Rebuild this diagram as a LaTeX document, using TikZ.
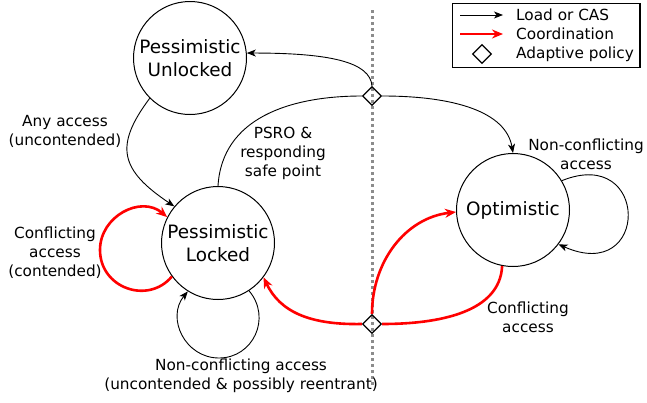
\documentclass[tikz,border=0pt]{standalone}
\usepackage{fontspec}
\setmainfont{DejaVu Sans}
\usetikzlibrary{arrows.meta,shapes.geometric}
\begin{document}
\begin{tikzpicture}[x=1pt,y=-1pt,
  state/.style={circle,draw,line width=1pt,minimum size=113pt,inner sep=0pt,
    align=center,font=\fontsize{18.4}{22.5}\selectfont},
  lbl/.style={align=center,font=\fontsize{15.3}{19}\selectfont},
  legtext/.style={anchor=west,inner sep=0pt,font=\fontsize{15.3}{19}\selectfont},
  cas/.style={draw,line width=0.9pt,-{Stealth[length=9pt,width=7pt,inset=2.5pt]}},
  plainedge/.style={draw,line width=0.9pt},
  coordedge/.style={draw=red,line width=2.6pt,-{Stealth[length=11pt,width=9pt,inset=3.5pt]}},
  coordplain/.style={draw=red,line width=2.6pt},
  policy/.style={diamond,draw,line width=1.3pt,minimum size=19pt,inner sep=0pt}
]
\useasboundingbox (0,0) rectangle (647,402);

% divider between the pessimistic and optimistic halves
\draw[gray!90,line width=3pt,dash pattern=on 3pt off 3pt] (372,10) -- (372,386);

% states
\node[state] (PU) at (190,58) {Pessimistic\\Unlocked};
\node[state] (PL) at (218,243) {Pessimistic\\Locked};
\node[state] (OP) at (513,210) {Optimistic};

% adaptive policy points
\node[policy] (D1) at (372,96) {};
\node[policy] (D2) at (372,324) {};

% load / CAS transitions
\draw[cas] (D1.north) .. controls (370,62) and (330,53) .. (PU.5);
\draw[plainedge] (D1.west) .. controls (290,96) and (222,118) .. (PL.north);
\draw[cas] (D1.east) .. controls (455,96) and (506,112) .. (OP.north);
\draw[cas] (PU.225) .. controls (114,146) and (120,170) .. (PL.140);
\draw[cas] (PL.-57) .. controls (272,318) and (253,358) .. (219,358)
                    .. controls (185,358) and (166,318) .. (PL.-122);
\draw[cas] (OP.31) .. controls (650,145) and (650,285) .. (OP.-37);

% coordination transitions
\draw[coordedge] (PL.216) .. controls (148,305) and (100,288) .. (100,250)
                          .. controls (100,216) and (141,195) .. (PL.153);
\draw[coordedge] (D2.west) .. controls (310,325) and (280,312) .. (PL.-37);
\draw[coordedge] (D2.north) .. controls (372,262) and (405,218) .. (OP.182);
\draw[coordplain] (OP.-101) .. controls (500,312) and (440,324) .. (D2.east);

% transition labels
\node[lbl] (l1) at (65,131) {Any access\\(uncontended)};
\node[lbl] (l2) at (283,153) {PSRO \&\\responding\\safe point};
\node[lbl] (l3) at (55,253) {Conflicting\\access\\(contended)};
\node[lbl] (l4) at (241,376) {Non-conflicting access\\(uncontended \& possibly reentrant)};
\node[lbl] (l5) at (586,154) {Non-conflicting\\access};
\node[lbl] (l6) at (528,317) {Conflicting\\access};

% legend
\draw[line width=1.3pt] (452.5,3.5) rectangle (640,67.5);
\coordinate (a1) at (460,15);
\coordinate (a2) at (503,15);
\coordinate (b1) at (460,34);
\coordinate (b2) at (503,34);
\draw[cas] (a1) -- (a2);
\draw[coordedge] (b1) -- (b2);
\node[policy] (legD) at (482,54) {};
\node[legtext] (t1) at (516,15) {Load or CAS};
\node[legtext] (t2) at (516,34) {Coordination};
\node[legtext] (t3) at (516,54) {Adaptive policy};
\end{tikzpicture}
\end{document}
